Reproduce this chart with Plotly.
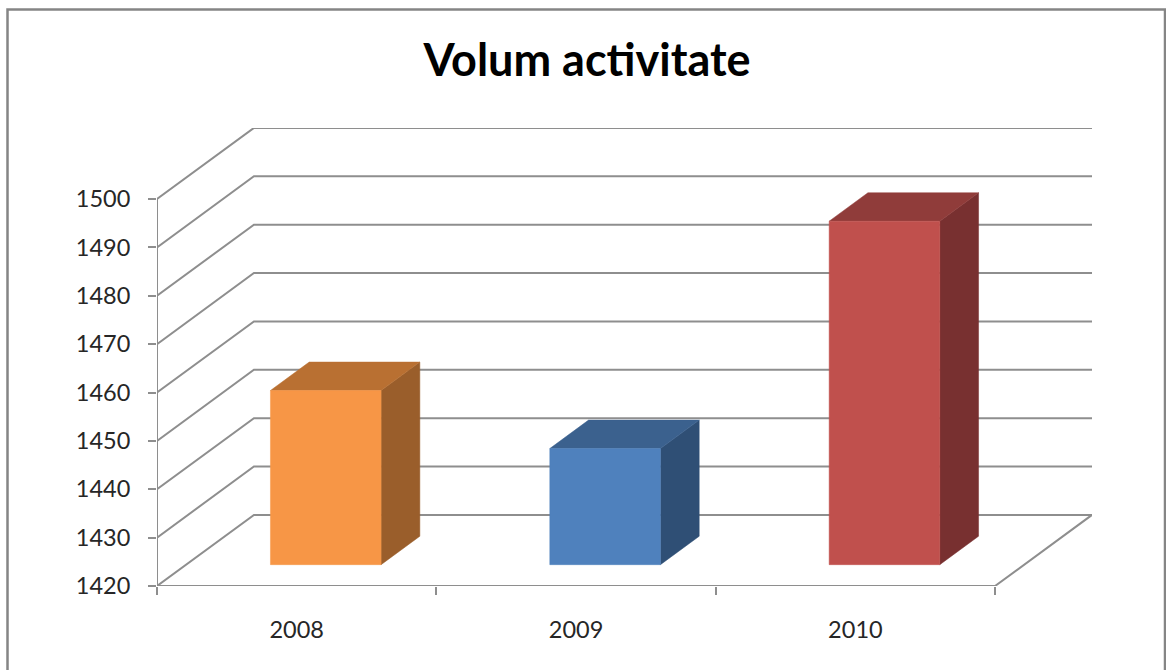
import plotly.graph_objects as go

years = ["2008", "2009", "2010"]
volum = [1456, 1444, 1491]
y_ticks = [1420, 1430, 1440, 1450, 1460, 1470, 1480, 1490, 1500]

front_colors = ["#F79646", "#4F81BD", "#C0504D"]
top_colors = ["#B97032", "#3B618E", "#903C3A"]
side_colors = ["#9A5E2B", "#2F4F75", "#783030"]

W, H = 1166, 670
ML, MR, MT, MB = 157, 74, 128, 84
GRID = "#8E8E8E"

# pseudo 3D: a point at depth d (0 front, 1 back wall) moves right and up
DEPTH_X = 0.347
DEPTH_Y = 14.7
BAR_W = 0.396
Z0, Z1 = 0.3, 0.7
base = y_ticks[0]


def proj(cat, val, d):
    return cat + d * DEPTH_X, val + d * DEPTH_Y


def poly(points):
    xs, ys = zip(*[proj(*p) for p in points])
    return list(xs) + [xs[0]], list(ys) + [ys[0]]


fig = go.Figure()


def add_line(points):
    xs, ys = zip(*[proj(*p) for p in points])
    fig.add_trace(go.Scatter(x=xs, y=ys, mode="lines", line=dict(color=GRID, width=2),
                             cliponaxis=False, showlegend=False, hoverinfo="skip"))


def add_face(points, color):
    xs, ys = poly(points)
    fig.add_trace(go.Scatter(x=xs, y=ys, mode="lines", fill="toself", fillcolor=color,
                             line=dict(color=color, width=0.5), cliponaxis=False,
                             showlegend=False, hoverinfo="skip"))


n = len(years)

# walls and floor
for t in y_ticks:
    add_line([(0, t, 0), (0, t, 1), (n, t, 1)])
add_line([(0, base, 0), (0, y_ticks[-1], 0)])
add_line([(0, base, 0), (n, base, 0), (n, base, 1)])

# bars
for i, v in enumerate(volum):
    c0 = i + 0.5 - BAR_W / 2
    c1 = i + 0.5 + BAR_W / 2
    add_face([(c1, base, Z0), (c1, base, Z1), (c1, v, Z1), (c1, v, Z0)], side_colors[i])
    add_face([(c0, v, Z0), (c1, v, Z0), (c1, v, Z1), (c0, v, Z1)], top_colors[i])
    add_face([(c0, base, Z0), (c1, base, Z0), (c1, v, Z0), (c0, v, Z0)], front_colors[i])

pw = W - ML - MR
ph = H - MT - MB


def px(x):
    return (x - ML) / pw


def py(y):
    return 1 - (y - MT) / ph


fig.update_layout(
    width=W, height=H,
    margin=dict(l=ML, r=MR, t=MT, b=MB),
    paper_bgcolor="white", plot_bgcolor="white",
    font=dict(family="Lato", color="#262626"),
    showlegend=False,
    title=dict(text="<b>Volum activitate</b>", x=587 / W, xanchor="center", y=1 - 60 / H,
               yanchor="middle", font=dict(family="Lato", size=45, color="#000000")),
    xaxis=dict(
        range=[0, DEPTH_X + n], tickvals=[i + 0.5 for i in range(n)], ticktext=years,
        ticks="", showgrid=False, zeroline=False, showline=False,
        tickfont=dict(size=23.5), ticklabelstandoff=27,
        minor=dict(tickvals=list(range(n + 1)), ticks="outside", ticklen=8,
                   tickcolor=GRID, tickwidth=2, showgrid=False),
    ),
    yaxis=dict(
        range=[base, y_ticks[0] + 458 / 4.8375], tickvals=y_ticks, ticks="outside",
        ticklen=8, tickcolor=GRID, tickwidth=2, showgrid=False, zeroline=False,
        showline=False, tickfont=dict(size=23.5), ticklabelstandoff=13,
    ),
    shapes=[dict(type="path", xref="paper", yref="paper",
                 path=f"M {px(7.5)} {py(670)} L {px(7.5)} {py(9.5)} L {px(1165)} {py(9.5)} L {px(1165)} {py(670)}",
                 line=dict(color="#858585", width=2.5))],
)

fig.write_html("out.html", config=dict(displayModeBar=False),
               post_script="document.body.style.margin='0';document.body.style.overflow='hidden';")
